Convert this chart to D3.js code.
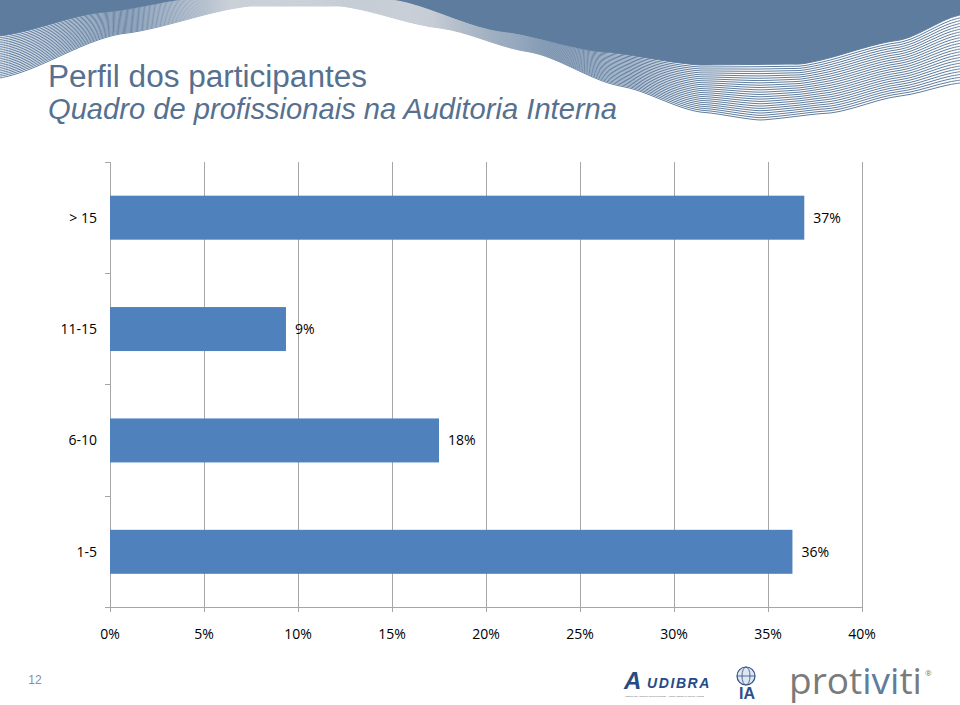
<!DOCTYPE html>
<html>
<head>
<meta charset="utf-8">
<script src="https://cdn.jsdelivr.net/npm/d3@7"></script>
<style>
  html, body { margin: 0; padding: 0; background: #ffffff; }
  svg { display: block; }
</style>
</head>
<body>
<svg id="chart" width="960" height="705"></svg>
<script>
// ---- data ----
const categories = ["> 15", "11-15", "6-10", "1-5"];
const values = [36.93, 9.36, 17.5, 36.3];          // percent
const xTicks = [0, 5, 10, 15, 20, 25, 30, 35, 40];   // percent
const titleLine1 = "Perfil dos participantes";
const titleLine2 = "Quadro de profissionais na Auditoria Interna";
const pageNumber = "12";

// ---- setup ----
const svg = d3.select("#chart");
const BLUE = "#5e7c9e";

// ---- header decoration (swoosh) ----
const deco = svg.append("g");
const defs = svg.append("defs");
const grad = defs.append("linearGradient").attr("id", "stripeGrad")
  .attr("gradientUnits", "userSpaceOnUse").attr("x1", 0).attr("x2", 960).attr("y1", 0).attr("y2", 0);
[[0, BLUE], [0.14, "#6f8aa8"], [0.24, "#c9cfd7"], [0.45, "#c2c9d2"], [0.57, "#7d95b0"], [0.66, BLUE], [1, BLUE]]
  .forEach(([o, c]) => grad.append("stop").attr("offset", o).attr("stop-color", c));

const upperEdge = [[0,36],[100,13],[200,-2],[300,-12],[392,0],[500,32],[600,52],[700,65],[800,64],[900,40],[960,15]];
const lowerEdge = [[0,78],[120,34],[250,6],[340,6],[440,28],[530,52],[620,86],[700,112],[760,120],[830,113],[900,96],[960,83]];
const curve = d3.line().curve(d3.curveCatmullRom.alpha(0.5));

function interpY(pts, xv) {
  for (let k = 0; k < pts.length - 1; k++) {
    const [x0, y0] = pts[k], [x1, y1] = pts[k + 1];
    if (xv >= x0 && xv <= x1) {
      const u = (xv - x0) / (x1 - x0);
      const s = u * u * (3 - 2 * u);
      return y0 + (y1 - y0) * (0.5 * u + 0.5 * s);
    }
  }
  return pts[pts.length - 1][1];
}
const sampleX = d3.range(0, 961, 10);
const upperPts = sampleX.map(xv => [xv, interpY(upperEdge, xv)]);

deco.append("path")
  .attr("d", "M0,-20 L" + curve(upperPts).slice(1) + " L960,-20 Z")
  .attr("fill", BLUE);

const nStripes = 24;
for (let i = 0; i <= nStripes; i++) {
  const t = i / nStripes;
  const line = sampleX.map(xv => [xv, interpY(upperEdge, xv) * (1 - t) + interpY(lowerEdge, xv) * t]);
  deco.append("path").attr("d", curve(line)).attr("fill", "none")
    .attr("stroke", "url(#stripeGrad)").attr("stroke-width", 1);
}

// ---- title ----
const titleFont = "'Liberation Sans', Arial, sans-serif";
svg.append("text").attr("x", 48).attr("y", 87).text(titleLine1)
  .attr("font-family", titleFont).attr("font-size", 31).attr("fill", "#56708f")
  .attr("textLength", 319).attr("lengthAdjust", "spacingAndGlyphs");
svg.append("text").attr("x", 48).attr("y", 119).text(titleLine2)
  .attr("font-family", titleFont).attr("font-size", 30).attr("font-style", "italic").attr("fill", "#56708f")
  .attr("textLength", 569).attr("lengthAdjust", "spacingAndGlyphs");

// ---- chart ----
const plotLeft = 110, plotRight = 862, plotTop = 162, plotBottom = 607.5;
const x = d3.scaleLinear().domain([0, 40]).range([plotLeft, plotRight]);
const pad = 0.605;
const y = d3.scaleBand().domain(categories).range([plotTop, plotBottom]).paddingInner(pad).paddingOuter(pad / 2);
const chartFont = "'Open Sans', 'Noto Sans', sans-serif";
const GRID = "#a6a6a6";

const g = svg.append("g");
g.selectAll("line.grid").data(xTicks).join("line")
  .attr("x1", d => x(d)).attr("x2", d => x(d))
  .attr("y1", plotTop).attr("y2", plotBottom + 4.5)
  .attr("stroke", GRID).attr("stroke-width", 1).attr("shape-rendering", "crispEdges");
g.append("line").attr("x1", plotLeft - 5).attr("x2", plotRight).attr("y1", plotBottom).attr("y2", plotBottom)
  .attr("stroke", GRID).attr("shape-rendering", "crispEdges");
const bounds = d3.range(categories.length + 1).map(i => plotTop + i * y.step());
g.selectAll("line.ytick").data(bounds).join("line")
  .attr("x1", plotLeft - 5).attr("x2", plotLeft).attr("y1", d => d).attr("y2", d => d)
  .attr("stroke", GRID).attr("shape-rendering", "crispEdges");

g.selectAll("rect.bar").data(categories).join("rect")
  .attr("x", x(0)).attr("y", d => y(d))
  .attr("width", (d, i) => x(values[i]) - x(0)).attr("height", y.bandwidth())
  .attr("fill", "#4f81bd");

const textStyle = s => s.attr("font-family", chartFont).attr("font-size", 14)
  .attr("font-weight", 400).attr("fill", "#000");

g.selectAll("text.val").data(categories).join("text")
  .attr("x", (d, i) => x(values[i]) + 9).attr("y", d => y(d) + y.bandwidth() / 2)
  .attr("dy", "0.35em").text((d, i) => Math.round(values[i]) + "%").call(textStyle);

g.selectAll("text.cat").data(categories).join("text")
  .attr("x", plotLeft - 13).attr("y", d => y(d) + y.bandwidth() / 2)
  .attr("dy", "0.35em").attr("text-anchor", "end").text(d => d).call(textStyle);

g.selectAll("text.xt").data(xTicks).join("text")
  .attr("x", d => x(d)).attr("y", plotBottom + 31).attr("text-anchor", "middle")
  .text(d => d + "%").call(textStyle);

// ---- footer ----
svg.append("text").attr("x", 35).attr("y", 684).attr("text-anchor", "middle").text(pageNumber)
  .attr("font-family", "'Liberation Sans', sans-serif").attr("font-size", 12).attr("fill", "#7f8fa3");

const foot = svg.append("g");
foot.append("text").attr("x", 624).attr("y", 689).text("A")
  .attr("font-family", "'Liberation Sans', sans-serif").attr("font-weight", "bold").attr("font-style", "italic")
  .attr("font-size", 24).attr("fill", "#264a86");
foot.append("text").attr("x", 647).attr("y", 688).text("UDIBRA")
  .attr("font-family", "'Liberation Sans', sans-serif").attr("font-weight", "bold").attr("font-style", "italic")
  .attr("font-size", 14).attr("letter-spacing", 1.6).attr("fill", "#264a86");
foot.append("text").attr("x", 625).attr("y", 697).text("Instituto dos Auditores Internos do Brasil · Affiliate Institute of Internal Auditors")
  .attr("font-family", "'Liberation Sans', sans-serif").attr("font-size", 2.3).attr("fill", "#666");
// IIA globe logo
foot.append("circle").attr("cx", 746).attr("cy", 676).attr("r", 9).attr("fill", "#dfe6ef").attr("stroke", "#2d4f8a").attr("stroke-width", 1.2);
foot.append("ellipse").attr("cx", 746).attr("cy", 676).attr("rx", 4).attr("ry", 9).attr("fill", "none").attr("stroke", "#2d4f8a").attr("stroke-width", 0.8);
foot.append("line").attr("x1", 737).attr("x2", 755).attr("y1", 676).attr("y2", 676).attr("stroke", "#2d4f8a").attr("stroke-width", 0.8);
foot.append("text").attr("x", 747).attr("y", 699).attr("text-anchor", "middle").text("IA")
  .attr("font-family", "'Liberation Sans', sans-serif").attr("font-weight", "bold").attr("font-size", 16).attr("fill", "#2d4f8a");

const pt = svg.append("text").attr("x", 789).attr("y", 694)
  .attr("font-family", "'Open Sans', sans-serif").attr("font-weight", 400).attr("font-size", 37);
pt.append("tspan").text("prot").attr("fill", "#7a7a7a");
pt.append("tspan").text("ivi").attr("fill", "#5f7d9c");
pt.append("tspan").text("ti").attr("fill", "#7a7a7a");
svg.append("text").attr("x", 925).attr("y", 676).text("®")
  .attr("font-family", "'Open Sans', sans-serif").attr("font-size", 8).attr("fill", "#7a7a7a");
</script>
</body>
</html>
